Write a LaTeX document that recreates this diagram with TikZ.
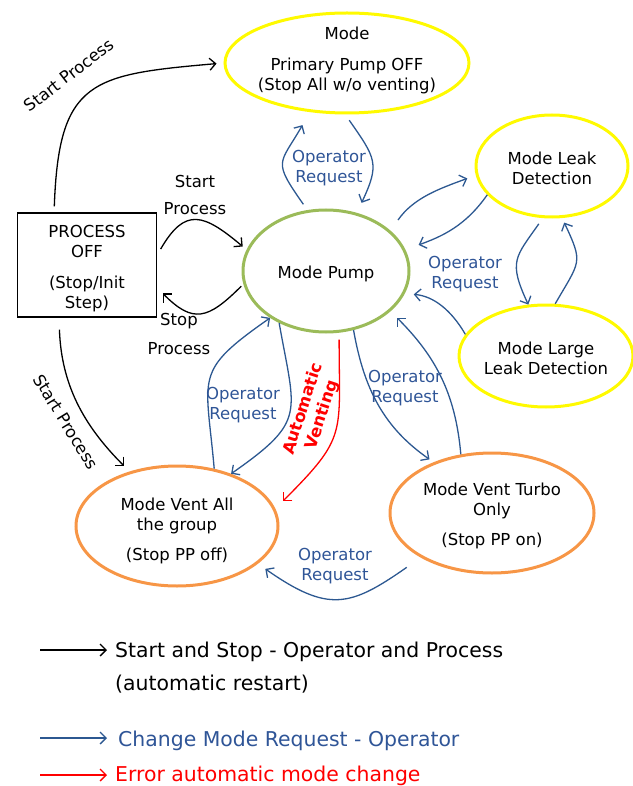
\documentclass[tikz,border=0pt]{standalone}
\usepackage{fontspec}
\setmainfont{DejaVu Sans}
\usetikzlibrary{shapes.geometric,arrows.meta}

\definecolor{ylw}{RGB}{255,250,0}
\definecolor{grn}{RGB}{155,187,89}
\definecolor{org}{RGB}{247,150,70}
\definecolor{reqblue}{RGB}{44,88,145}
\definecolor{txtblue}{RGB}{47,85,151}

\begin{document}
\begin{tikzpicture}[x=1pt,y=1pt,>={Straight Barb[length=6pt,width=12pt]},
  font=\fontsize{16.5}{20}\selectfont,
  every label/.append style={align=center,inner sep=0pt,yshift=-2.5pt},
  mode/.style={ellipse,draw,line width=3pt,inner sep=0pt},
  run/.style={->,line width=1.3pt,black},
  req/.style={->,line width=1.3pt,reqblue},
  err/.style={->,line width=1.3pt,red},
  lbl/.style={text=txtblue,align=center},
  key/.style={anchor=base west,inner sep=0pt,font=\fontsize{20.4}{24}\selectfont}]
  \useasboundingbox (0,0) rectangle (632,-786);

  % states
  \node[draw,line width=1.3pt,minimum width=139,minimum height=104,inner sep=0pt,
    label={[yshift=-1.5pt]center:{PROCESS\\OFF\\[11pt](Stop/Init\\Step)}}] (proc) at (87,-265) {};
  \node[mode,draw=ylw,minimum width=244,minimum height=100,
    label={[yshift=5pt]center:{Mode\\[11pt]Primary Pump OFF\\(Stop All w/o venting)}}] (prim) at (347,-63) {};
  \node[mode,draw=grn,minimum width=166,minimum height=122,label={center:{Mode Pump}}] (pump) at (326,-271) {};
  \node[mode,draw=ylw,minimum width=152,minimum height=102,label={center:{Mode Leak\\Detection}}] (leak) at (552,-166) {};
  \node[mode,draw=ylw,minimum width=174,minimum height=102,label={center:{Mode Large\\Leak Detection}}] (large) at (546,-356) {};
  \node[mode,draw=org,minimum width=202,minimum height=120,
    label={[yshift=-2pt]center:{Mode Vent All\\the group\\[10pt](Stop PP off)}}] (vall) at (177,-526) {};
  \node[mode,draw=org,minimum width=204,minimum height=120,
    label={center:{Mode Vent Turbo\\Only\\[10pt](Stop PP on)}}] (vturbo) at (492,-513) {};

  % start / stop
  \path[run]
    (proc.122) edge[out=88,in=185,looseness=1.5,shorten <=6pt,shorten >=7pt] (prim.180)
    (proc.8) edge[out=60,in=140,looseness=1.6,shorten <=7pt,shorten >=5pt] (pump.165)
    (pump.189) edge[out=225,in=-45,looseness=1.5,shorten <=3pt,shorten >=8pt] (proc.-18)
    (proc.242) edge[out=-88,in=135,shorten <=12pt,shorten >=8pt] (vall.131);

  % operator requests
  \path[req]
    (pump.107) edge[out=125,in=240,looseness=1.6,shorten <=7pt,shorten >=15pt] (prim.233)
    (prim.268) edge[out=-55,in=65,looseness=1.4,shorten <=7pt,shorten >=11pt] (pump.62)
    (pump.32) edge[out=55,in=200,shorten <=13pt,shorten >=9pt] (leak.187)
    (leak.204) edge[out=235,in=20,shorten >=14pt] (pump.15)
    (leak.260) edge[out=235,in=115,looseness=1.4,shorten <=7pt] (large.109)
    (large.80) edge[out=60,in=-65,looseness=1.5,shorten >=5pt] (leak.281)
    (large.165) edge[out=120,in=-5,shorten >=9pt] (pump.-16)
    (vturbo.118) edge[out=95,in=-45,shorten >=9pt] (pump.-32)
    (pump.-65) edge[out=-80,in=145,shorten >=5pt] (vturbo.139)
    (pump.228) edge[out=-80,in=35,looseness=1.5] (vall.44)
    (vall.57) edge[out=95,in=215,looseness=1.5] (pump.220)
    (vturbo.212) edge[out=215,in=-35,looseness=1.35,shorten <=17pt,shorten >=9pt] (vall.-25);

  % automatic venting
  \path[err]
    (pump.-78) edge[out=-90,in=45,looseness=1.4,shorten <=7pt,shorten >=11pt] (vall.10);

  % labels
  \node[rotate=37.5] (sp1) at (69,-75) {Start Process};
  \node[align=center] (sp2) at (195,-194.5) {Start\\[7pt]Process};
  \node[align=center] (stp) at (179,-333.5) {Stop\\[9pt]Process};
  \node[rotate=-58.5] (sp3) at (66,-422) {Start Process};
  \node[lbl] (or1) at (329,-168) {Operator\\Request};
  \node[lbl] (or2) at (465,-274) {Operator\\Request};
  \node[lbl] (or3) at (405,-388) {Operator\\Request};
  \node[lbl] (or4) at (243,-405) {Operator\\Request};
  \node[lbl] (or5) at (335,-566) {Operator\\Request};
  \node[rotate=72,text=red,align=center,font=\fontsize{16.5}{20}\selectfont\bfseries] (auto) at (313,-412) {Automatic\\Venting};

  % legend
  \coordinate (k1a) at (40,-650);
  \coordinate (k1b) at (107,-650);
  \coordinate (k2a) at (40,-738);
  \coordinate (k2b) at (107,-738);
  \coordinate (k3a) at (40,-775);
  \coordinate (k3b) at (107,-775);
  \draw[run] (k1a) -- (k1b);
  \draw[req] (k2a) -- (k2b);
  \draw[err] (k3a) -- (k3b);
  \node[key] (k1) at (115,-657) {Start and Stop - Operator and Process};
  \node[key] (k1x) at (115,-690) {(automatic restart)};
  \node[key,text=txtblue] (k2) at (118,-746) {Change Mode Request - Operator};
  \node[key,text=red] (k3) at (115,-781) {Error automatic mode change};
\end{tikzpicture}
\end{document}
